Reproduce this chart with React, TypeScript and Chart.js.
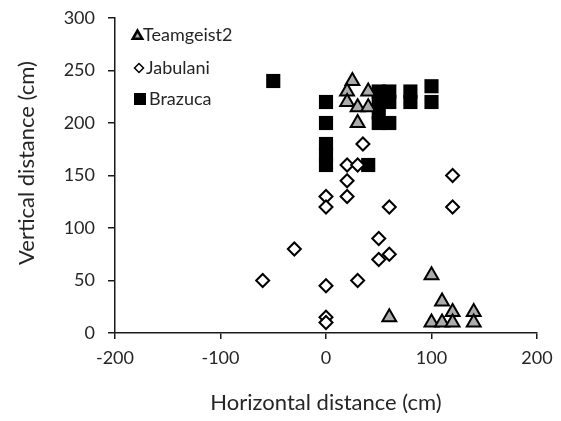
import React, { useEffect, useRef } from 'react';
import { Chart, registerables } from 'chart.js';

Chart.register(...registerables);

// ---- data ----
const seriesNames = ['Teamgeist2', 'Jabulani', 'Brazuca'];

const teamgeist2X = [25, 20, 40, 20, 30, 40, 30, 60, 100, 110, 120, 140, 100, 110, 120, 140];
const teamgeist2Y = [240, 230, 230, 220, 215, 215, 200, 15, 55, 30, 20, 20, 10, 10, 10, 10];

const jabulaniX = [-60, -30, 0, 0, 0, 0, 0, 20, 30, 20, 20, 35, 30, 50, 50, 60, 60, 120, 120];
const jabulaniY = [50, 80, 130, 120, 45, 15, 10, 160, 160, 145, 130, 180, 50, 90, 70, 75, 120, 150, 120];

const brazucaX = [-50, 0, 0, 0, 0, 0, 40, 50, 50, 50, 50, 60, 60, 60, 80, 80, 100, 100];
const brazucaY = [240, 220, 200, 180, 170, 160, 160, 230, 220, 210, 200, 230, 220, 200, 230, 220, 235, 220];

const xTickValues = [-200, -100, 0, 100, 200];
const yTickValues = [0, 50, 100, 150, 200, 250, 300];

const xTitle = 'Horizontal distance (cm)';
const yTitle = 'Vertical distance (cm)';

const FONT = 'Lato, "Open Sans", "DejaVu Sans", sans-serif';
const TEXT_COLOR = '#262626';
const AXIS_COLOR = '#1a1a1a';
const TRI_FILL = '#ababab';

const toPoints = (xs: number[], ys: number[]) => xs.map((x, i) => ({ x, y: ys[i] }));

const textPlugin = {
  id: 'customText',
  afterDraw(chart: any) {
    const { ctx } = chart;
    ctx.save();
    ctx.fillStyle = TEXT_COLOR;

    // axis titles
    ctx.font = `22px ${FONT}`;
    ctx.textAlign = 'center';
    ctx.textBaseline = 'middle';
    ctx.fillText(xTitle, 318, 395);
    ctx.save();
    ctx.translate(19, 155);
    ctx.rotate(-Math.PI / 2);
    ctx.fillText(yTitle, 0, 0);
    ctx.restore();

    // legend (inside the plot, top-left)
    const rows = [27, 60, 91];
    ctx.font = `18px ${FONT}`;
    ctx.textAlign = 'left';

    // triangle
    ctx.beginPath();
    const r = 5.5;
    const cx = 129.5, cy = rows[0] + 1;
    ctx.moveTo(cx, cy - r);
    ctx.lineTo(cx + r * Math.sin((2 * Math.PI) / 3), cy - r * Math.cos((2 * Math.PI) / 3));
    ctx.lineTo(cx + r * Math.sin((4 * Math.PI) / 3), cy - r * Math.cos((4 * Math.PI) / 3));
    ctx.closePath();
    ctx.fillStyle = TRI_FILL;
    ctx.fill();
    ctx.lineWidth = 2.5;
    ctx.strokeStyle = '#000';
    ctx.stroke();
    ctx.fillStyle = TEXT_COLOR;
    ctx.fillText(seriesNames[0], 135, rows[0]);

    // diamond
    ctx.beginPath();
    const d = 4.5, dx = 131, dy = rows[1];
    ctx.moveTo(dx, dy - d);
    ctx.lineTo(dx + d, dy);
    ctx.lineTo(dx, dy + d);
    ctx.lineTo(dx - d, dy);
    ctx.closePath();
    ctx.fillStyle = '#fff';
    ctx.fill();
    ctx.lineWidth = 1.5;
    ctx.strokeStyle = '#000';
    ctx.stroke();
    ctx.fillStyle = TEXT_COLOR;
    ctx.fillText(seriesNames[1], 138, rows[1]);

    // square
    ctx.fillStyle = '#000';
    ctx.fillRect(126, rows[2] - 6, 12, 12);
    ctx.fillStyle = TEXT_COLOR;
    ctx.fillText(seriesNames[2], 141, rows[2]);

    ctx.restore();
  },
};

export default function App() {
  const canvasRef = useRef<HTMLCanvasElement | null>(null);

  useEffect(() => {
    if (!canvasRef.current) return;
    const chart = new Chart(canvasRef.current, {
      type: 'scatter',
      data: {
        datasets: [
          {
            label: seriesNames[0],
            data: toPoints(teamgeist2X, teamgeist2Y),
            pointStyle: 'triangle',
            pointRadius: 8,
            pointHoverRadius: 8,
            backgroundColor: TRI_FILL,
            borderColor: '#000',
            borderWidth: 2,
          },
          {
            label: seriesNames[1],
            data: toPoints(jabulaniX, jabulaniY),
            pointStyle: 'rectRot',
            pointRadius: 6.5,
            pointHoverRadius: 6.5,
            backgroundColor: '#fff',
            borderColor: '#000',
            borderWidth: 2,
          },
          {
            label: seriesNames[2],
            data: toPoints(brazucaX, brazucaY),
            pointStyle: 'rect',
            pointRadius: 10,
            pointHoverRadius: 10,
            backgroundColor: '#000',
            borderColor: '#000',
            borderWidth: 0,
          },
        ],
      },
      options: {
        animation: false,
        responsive: true,
        maintainAspectRatio: false,
        devicePixelRatio: 1,
        layout: { padding: { top: 10, right: 16, left: 0, bottom: 0 } },
        plugins: {
          legend: { display: false },
          tooltip: { enabled: false },
        },
        events: [],
        scales: {
          x: {
            type: 'linear',
            min: -200,
            max: 200,
            afterFit: (scale: any) => {
              scale.height = 80;
              scale.paddingLeft = 0;
              scale.paddingRight = 0;
            },
            afterBuildTicks: (scale: any) => {
              scale.ticks = xTickValues.map((v) => ({ value: v }));
            },
            ticks: {
              color: TEXT_COLOR,
              font: { family: FONT, size: 18 },
              padding: 8,
              maxRotation: 0,
            },
            grid: {
              drawOnChartArea: false,
              drawTicks: true,
              tickLength: 6,
              color: AXIS_COLOR,
              lineWidth: 1.5,
            },
            border: { display: true, color: AXIS_COLOR, width: 1.5 },
          },
          y: {
            type: 'linear',
            min: 0,
            max: 300,
            afterFit: (scale: any) => {
              scale.width = 107;
              scale.paddingTop = 0;
              scale.paddingBottom = 0;
            },
            afterBuildTicks: (scale: any) => {
              scale.ticks = yTickValues.map((v) => ({ value: v }));
            },
            ticks: {
              color: TEXT_COLOR,
              font: { family: FONT, size: 18 },
              padding: 13,
            },
            grid: {
              drawOnChartArea: false,
              drawTicks: true,
              tickLength: 7,
              color: AXIS_COLOR,
              lineWidth: 1.5,
            },
            border: { display: true, color: AXIS_COLOR, width: 1.5 },
          },
        },
      },
      plugins: [textPlugin],
    });
    return () => chart.destroy();
  }, []);

  return (
    <div style={{ width: 545, height: 405, position: 'relative', background: '#fff' }}>
      <canvas ref={canvasRef} />
    </div>
  );
}
